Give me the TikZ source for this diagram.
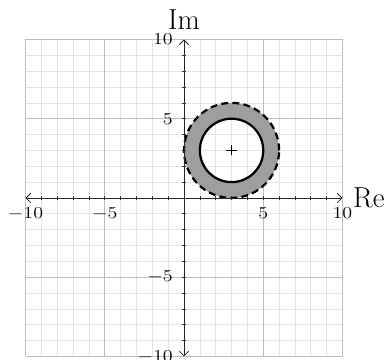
\documentclass[tikz,border=0pt]{standalone}
\usepackage{graphicx}
\usetikzlibrary{arrows.meta}
\newcommand{\tlab}[1]{\scalebox{1.2}[1]{#1}}
\begin{document}
\begin{tikzpicture}[x=0.4cm,y=0.4cm,
  minorgrid/.style={black!11,line width=0.5pt},
  majorgrid/.style={black!26,line width=0.55pt},
  axisline/.style={black!85,line width=0.5pt,
    {Straight Barb[length=3.4pt,width=6.8pt,line width=0.6pt]}-{Straight Barb[length=3.4pt,width=6.8pt,line width=0.6pt]}},
  tickmark/.style={black!80,line width=0.45pt},
  ticklab/.style={font=\fontsize{13}{15}\selectfont,inner sep=0pt},
  biglab/.style={font=\huge,inner sep=0pt},
  ringfill/.style={black!38,even odd rule},
  outercirc/.style={line width=1.6pt,dash pattern=on 5pt off 3pt},
  innercirc/.style={line width=1.6pt},
  plusmark/.style={line width=0.5pt}]
\useasboundingbox (-11.61,-10.22) rectangle (13.06,12.49);
% grid
\draw[minorgrid] (-10,-10) grid[step=1] (10,10);
\draw[majorgrid] (-10,-10) grid[step=5] (10,10);
% annulus
\coordinate (ctr) at (3,3);
\fill[ringfill] (ctr) circle[radius=3] (ctr) circle[radius=2];
\draw[outercirc] (ctr) circle[radius=3];
\draw[innercirc] (ctr) circle[radius=2];
% axes
\coordinate (xl) at (-10,0);
\coordinate (xr) at (10,0);
\coordinate (yb) at (0,-10);
\coordinate (yt) at (0,10);
\draw[axisline] (xl) -- (xr);
\draw[axisline] (yb) -- (yt);
\foreach \i in {-9,...,9} {
  \draw[tickmark] (\i,-0.15) -- (\i,0.15);
  \draw[tickmark] (-0.15,\i) -- (0.15,\i);
}
% centre mark
\draw[plusmark] ([xshift=-0.128cm]ctr) -- ([xshift=0.128cm]ctr);
\draw[plusmark] ([yshift=-0.128cm]ctr) -- ([yshift=0.128cm]ctr);
% tick labels
\node[ticklab,anchor=north] (xm10) at (-10,-0.63) {\tlab{$-10$}};
\node[ticklab,anchor=north] (xm5) at (-5,-0.63) {\tlab{$-5$}};
\node[ticklab,anchor=north] (xp5) at (5,-0.63) {\tlab{$5$}};
\node[ticklab,anchor=north] (xp10) at (10,-0.63) {\tlab{$10$}};
\node[ticklab,anchor=east] (ym10) at (-0.69,-10) {\tlab{$-10$}};
\node[ticklab,anchor=east] (ym5) at (-0.69,-5) {\tlab{$-5$}};
\node[ticklab,anchor=east] (yp5) at (-0.69,5) {\tlab{$5$}};
\node[ticklab,anchor=east] (yp10) at (-0.69,10) {\tlab{$10$}};
% axis labels
\node[biglab,anchor=base] (im) at (0,10.6) {Im};
\node[biglab,anchor=base west] (re) at (10.66,-0.63) {Re};
\end{tikzpicture}
\end{document}
